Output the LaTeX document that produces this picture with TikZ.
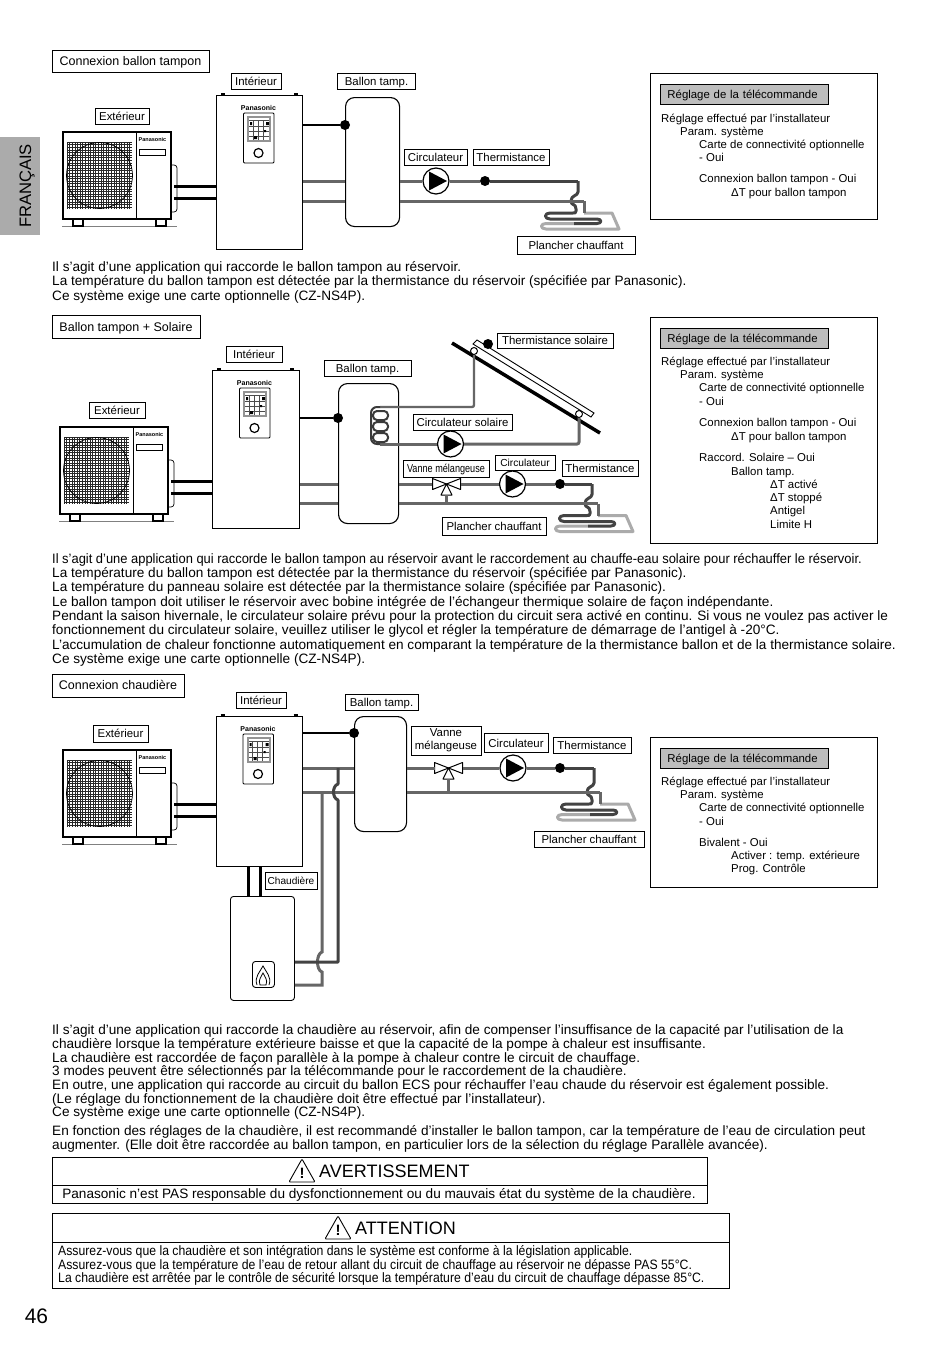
\documentclass[tikz,border=0pt]{standalone}
\usepackage{fontspec}
\setmainfont{Liberation Sans}
\newfontfamily\narrowfont[FakeStretch=0.8]{Liberation Sans}
\newfontfamily\warnfont[FakeStretch=0.9]{Liberation Sans}
\newfontfamily\tightfont[FakeStretch=0.95]{Liberation Sans}
\usepackage{xcolor}
\definecolor{pipedark}{HTML}{3A3A3A}
\definecolor{pipemid}{HTML}{666666}
\definecolor{pipelight}{HTML}{ABABAB}
\definecolor{tabgray}{HTML}{ABABAB}
\definecolor{titlegray}{HTML}{BDBDBD}
\newcommand{\labelsize}{\fontsize{11.4}{13}\selectfont}
\newcommand{\bodysize}{\fontsize{13.6}{14.3}\selectfont}
\tikzset{
  labelbox/.style={draw,fill=white,line width=.9pt,inner sep=0pt,align=center,font=\labelsize,text height=8.5pt,text depth=.5pt},
  headbox/.style={labelbox,font=\fontsize{12.5}{14}\selectfont,text height=8.2pt,text depth=0pt},
  panelbox/.style={draw,line width=1pt,minimum width=227pt,anchor=north west},
  greybox/.style={draw,fill=titlegray,line width=.9pt,minimum width=168pt,minimum height=20pt,anchor=north west,font=\labelsize,inner xsep=7pt,text width=154pt,text height=8.5pt,text depth=.5pt},
  paneltext/.style={anchor=north west,align=left,inner sep=0pt,font=\fontsize{11.4}{13.3}\selectfont},
  bodytext/.style={anchor=north west,align=left,inner sep=0pt,font=\bodysize},
  unitbox/.style={draw,fill=white,line width=1pt,anchor=north west,inner sep=0pt},
  extbox/.style={draw,fill=white,line width=1.5pt,inner sep=0pt},
  tank/.style={draw,fill=white,line width=1.1pt,rounded corners=9pt,anchor=north west,inner sep=0pt},
  pumpnode/.style={circle,draw,fill=white,line width=1.2pt,minimum size=26pt,inner sep=0pt},
  sensor/.style={circle,fill=black,minimum size=10pt,inner sep=0pt},
  brand/.style={font=\fontsize{5.5}{7}\selectfont\bfseries,inner sep=0pt},
  refpipe/.style={line width=3pt,black},
  wire/.style={line width=1.6pt,black},
  pipe/.style={line width=3pt,pipemid},
  pipetop/.style={line width=3pt,pipedark!80!pipemid},
  warnbox/.style={draw,line width=1pt,anchor=north west,inner sep=0pt},
}
% outdoor unit: name, left, top
\newcommand{\extunit}[3]{%
\begin{scope}[shift={(#2,#3)}]
\draw[line width=.8pt,gray] (0,95) -- (115,95);
\draw[line width=1.5pt] (11,87) -- (11,95) -- (21,95) -- (21,87);
\draw[line width=1.5pt] (94,87) -- (94,95) -- (104,95) -- (104,87);
\draw[line width=.7pt,rounded corners=3pt] (108,34) -- (115,34) -- (115,81) -- (108,81);
\node[extbox,anchor=north west,minimum width=108pt,minimum height=87pt] (#1) at (0,0) {};
\draw[line width=.7pt] (74,0) -- (74,87);
\foreach \gx in {0,2.6,...,65}{\draw[line width=.6pt,black!85] (5+\gx,11) -- (5+\gx,78);}
\foreach \gy in {0,2.6,...,67}{\draw[line width=.6pt,black!85] (5,11+\gy) -- (70,11+\gy);}
\draw[line width=.7pt,black] (37.5,44.5) circle (33pt);
\node[brand] (#1brand) at (90.5,9) {Panasonic};
\draw[line width=.7pt] (77,18) rectangle (103,24);
\coordinate (#1a) at (112,55.5);
\coordinate (#1b) at (112,67.5);
\end{scope}}
% indoor unit with its control panel: name, left, top, width, height
\newcommand{\intunit}[5]{%
\begin{scope}[shift={(#2,#3)}]
\draw[line width=1.4pt] (5,-1) -- (9,-1) (78,-1) -- (82,-1);
\node[unitbox,minimum width=#4pt,minimum height=#5pt] (#1) at (0,0) {};
\node[brand,font=\fontsize{7}{8}\selectfont\bfseries] (#1brand) at (42.5,13) {Panasonic};
\draw[line width=.9pt,rounded corners=1pt,fill=white] (27.5,18) rectangle (58,68);
\fill[gray!85] (31,21) rectangle (55,47);
\fill[white] (33,23) rectangle (53,45);
\draw[line width=.8pt,black!70] (33,25) -- (53,25);
\foreach \gx in {37,42,47}{\draw[line width=.7pt,black!70] (\gx,26) -- (\gx,45);}
\foreach \gy in {31,36,41}{\draw[line width=.7pt,black!70] (33,\gy) -- (53,\gy);}
\fill[black] (50,27) rectangle (53,30) (38,41) rectangle (41,44) (48,35) rectangle (50,37) (34,27) rectangle (36,30);
\draw[line width=1.2pt] (42.5,58) circle (4.5pt);
\end{scope}}
% floor circuit under a corner of the upper pipe: name, corner x, corner y, drop to lower pipe
\newcommand{\floorcoil}[4]{%
\begin{scope}[shift={(#2,#3)}]
\coordinate (#1top) at (0,0);
\coordinate (#1low) at (6,#4);
\draw[pipe,pipelight,line join=round] (6,#4+12) -- (34,#4+12) -- (41,#4+28) -- (-32,#4+28) .. controls (-38,#4+28) and (-38,#4+22.5) .. (-32,#4+22.5) -- (-4,#4+22.5);
\draw[pipe] (#1low) -- (6,#4+12);
\draw[pipetop,line join=round] (0,0) -- (0,#4-9) .. controls (0,#4-5) and (-7,#4-6) .. (-7,#4) .. controls (-7,#4+5) and (-2,#4+2) .. (-2,#4+8) -- (-2,#4+10) .. controls (-2,#4+12) and (-3,#4+12) .. (-5,#4+12) -- (-28,#4+12) .. controls (-34,#4+12) and (-34,#4+18) .. (-28,#4+18) -- (19,#4+18) .. controls (24,#4+18) and (24,#4+22.5) .. (19,#4+22.5) -- (-4,#4+22.5);
\end{scope}}
% three-way valve: name, centre x, centre y
\newcommand{\vanne}[3]{%
\begin{scope}[shift={(#2,#3)}]
\coordinate (#1) at (0,0);
\coordinate (#1foot) at (0,11);
\draw[line width=1pt,fill=white,line join=round] (0,0) -- (-14,-5.5) -- (-14,5.5) -- cycle;
\draw[line width=1pt,fill=white,line join=round] (0,0) -- (14,-5.5) -- (14,5.5) -- cycle;
\draw[line width=1pt,fill=white,line join=round] (0,0) -- (-5.5,11) -- (5.5,11) -- cycle;
\end{scope}}
% pump: name, centre x, centre y
\newcommand{\pumpat}[3]{%
\node[pumpnode] (#1) at (#2,#3) {};
\fill[black] (#2-7,#3-9.5) -- (#2-7,#3+9.5) -- (#2+11,#3) -- cycle;}
% warning sign: name, left, top
\newcommand{\warnsign}[3]{%
\draw[line width=.9pt,rounded corners=1pt,line join=round] (#2,#3+23) -- (#2+13,#3) -- (#2+26,#3+23) -- cycle;
\node[inner sep=0pt,font=\fontsize{15}{15}\selectfont\bfseries] (#1) at (#2+13,#3+14.5) {!};}

\begin{document}
\begin{tikzpicture}[x=1pt,y=-1pt]
\useasboundingbox (0,0) rectangle (950,1346);
\fill[white] (0,0) rectangle (950,1346);
% side tab and page number
\fill[tabgray] (0,137) rectangle (40,235);
\node[rotate=90,inner sep=0pt,font=\fontsize{16.6}{17}\selectfont] (tablang) at (27,186) {FRANÇAIS};
\node[inner sep=0pt,font=\fontsize{21}{21}\selectfont] (pagenum) at (36.5,1316) {46};

% first installation
\node[headbox,minimum width=157pt,minimum height=22pt] (head1) at (130.5,61) {Connexion ballon tampon};
\extunit{ext1}{62}{131}
\intunit{int1}{216}{95}{86}{154}
\node[tank,minimum width=54pt,minimum height=129pt] (tank1) at (345,97) {};
\node[sensor] (sensb1) at (345,125) {};
\draw[wire] (int1.east |- sensb1) -- (sensb1);
\draw[refpipe] (ext1a) -- (ext1a -| int1.west);
\draw[refpipe] (ext1b) -- (ext1b -| int1.west);
\pumpat{pump1}{436}{181}
\node[sensor] (sensw1) at (485,181) {};
\floorcoil{coil1}{578}{181}{20}
\draw[pipe] (int1.east |- pump1) -- (tank1.west |- pump1);
\draw[pipe] (int1.east |- coil1low) -- (tank1.west |- coil1low);
\draw[pipe] (tank1.east |- pump1) -- (pump1.west);
\draw[pipe] (pump1.east) -- (sensw1);
\draw[pipetop] (sensw1) -- (coil1top);
\draw[pipe] (tank1.east |- coil1low) -- (coil1low);
\node[labelbox,minimum width=54pt,minimum height=16pt] (lext1) at (122,116) {Extérieur};
\node[labelbox,minimum width=50pt,minimum height=16pt] (lint1) at (256,81.5) {Intérieur};
\node[labelbox,minimum width=78pt,minimum height=16pt] (ltank1) at (376.5,81.5) {Ballon tamp.};
\node[labelbox,minimum width=63pt,minimum height=16pt] (lpump1) at (435.5,157.5) {Circulateur};
\node[labelbox,minimum width=76pt,minimum height=16pt] (lsens1) at (511,157.5) {Thermistance};
\node[labelbox,minimum width=118pt,minimum height=18pt] (lfloor1) at (576,245.5) {Plancher chauffant};
\node[panelbox,minimum height=146pt] (panel1) at (650,73) {};
\node[greybox] (ptitle1) at (660,84) {Réglage de la télécommande};
\node[paneltext] (ptext1) at (661,113.5) {Réglage effectué par l’installateur\\
\hspace*{19pt}Param. système\\
\hspace*{38pt}Carte de connectivité optionnelle\\
\hspace*{38pt}- Oui\\[7.7pt]
\hspace*{38pt}Connexion ballon tampon - Oui\\
\hspace*{70pt}ΔT pour ballon tampon};
\node[bodytext,font=\fontsize{13.6}{14.4}\selectfont] (para1) at (52,261) {Il s’agit d’une application qui raccorde le ballon tampon au réservoir.\\
La température du ballon tampon est détectée par la thermistance du réservoir (spécifiée par Panasonic).\\
Ce système exige une carte optionnelle (CZ-NS4P).};

% second installation, with solar panel
\node[headbox,minimum width=148pt,minimum height=23pt] (head2) at (126,327) {Ballon tampon + Solaire};
\extunit{ext2}{59}{426}
\intunit{int2}{212}{370}{87}{158}
\node[tank,minimum width=60pt,minimum height=140pt] (tank2) at (338,383) {};
\node[sensor] (sensb2) at (338,418) {};
\draw[wire] (int2.east |- sensb2) -- (sensb2);
\draw[refpipe] (ext2a) -- (ext2a -| int2.west);
\draw[refpipe] (ext2b) -- (ext2b -| int2.west);
\draw[line width=3.5pt] (452,343) -- (600,433);
\draw[line width=.9pt,fill=white] (473,344) -- (477,340) -- (594,413) -- (591,417) -- cycle;
\node[circle,draw,fill=white,line width=1pt,minimum size=7pt,inner sep=0pt] (solin) at (474,351) {};
\node[circle,draw,fill=white,line width=1pt,minimum size=7pt,inner sep=0pt] (solout) at (579,414) {};
\node[sensor] (senss2) at (488,344) {};
\pumpat{pumps2}{450.5}{444}
\coordinate (coila) at (380,407);
\coordinate (coilb) at (380,444);
\draw[line width=2.4pt,pipemid,rounded corners=2pt] (solin) -- (solin |- coila) -- (coila);
\draw[pipe,rounded corners=2pt] (solout) -- (solout |- pumps2) -- (pumps2.east);
\draw[pipe] (pumps2.west) -- (coilb);
\draw[line width=2pt,pipedark,rounded corners=6pt] (coila) -- (371,407) -- (371,444) -- (coilb);
\foreach \cy in {411,422,433}{\draw[line width=2pt,pipedark,rounded corners=4pt] (373,\cy) rectangle (388,\cy+9);}
\vanne{valve2}{446.5}{484}
\pumpat{pump2}{512.5}{484}
\node[sensor] (sensw2) at (560,484) {};
\floorcoil{coil2}{592}{484}{19.5}
\draw[pipe] (int2.east |- pump2) -- (tank2.west |- pump2);
\draw[pipe] (int2.east |- coil2low) -- (tank2.west |- coil2low);
\draw[pipe] (tank2.east |- pump2) -- (valve2 -| 432,0);
\draw[pipe] (461,484) -- (pump2.west);
\draw[pipe] (pump2.east) -- (sensw2);
\draw[pipetop] (sensw2) -- (coil2top);
\draw[pipe] (tank2.east |- coil2low) -- (coil2low);
\draw[pipe,line width=2.4pt] (valve2foot) -- (valve2foot |- coil2low);
\node[labelbox,minimum width=56pt,minimum height=16pt] (lext2) at (117,410) {Extérieur};
\node[labelbox,minimum width=56pt,minimum height=16pt] (lint2) at (254,354.5) {Intérieur};
\node[labelbox,minimum width=87pt,minimum height=16pt] (ltank2) at (367.5,368) {Ballon tamp.};
\node[labelbox,minimum width=116pt,minimum height=15pt] (lsens2) at (555,340.5) {Thermistance solaire};
\node[labelbox,minimum width=99pt,minimum height=16pt] (lpumps2) at (462.5,422) {Circulateur solaire};
\node[labelbox,minimum width=86pt,minimum height=17pt,font=\narrowfont\labelsize] (lvalve2) at (446,468.5) {Vanne mélangeuse};
\node[labelbox,minimum width=60pt,minimum height=15pt,font=\fontsize{10.2}{12}\selectfont] (lpump2) at (525,462.5) {Circulateur};
\node[labelbox,minimum width=76pt,minimum height=16pt] (lsensw2) at (600,468) {Thermistance};
\node[labelbox,minimum width=104pt,minimum height=18pt] (lfloor2) at (494,526) {Plancher chauffant};
\node[panelbox,minimum height=226pt] (panel2) at (650,317) {};
\node[greybox] (ptitle2) at (660,328) {Réglage de la télécommande};
\node[paneltext] (ptext2) at (661,356.5) {Réglage effectué par l’installateur\\
\hspace*{19pt}Param. système\\
\hspace*{38pt}Carte de connectivité optionnelle\\
\hspace*{38pt}- Oui\\[8.4pt]
\hspace*{38pt}Connexion ballon tampon - Oui\\
\hspace*{70pt}ΔT pour ballon tampon\\[8.4pt]
\hspace*{38pt}Raccord. Solaire – Oui\\
\hspace*{70pt}Ballon tamp.\\
\hspace*{109pt}ΔT activé\\
\hspace*{109pt}ΔT stoppé\\
\hspace*{109pt}Antigel\\
\hspace*{109pt}Limite H};
\node[bodytext] (para2) at (52,553) {\tightfont Il s’agit d’une application qui raccorde le ballon tampon au réservoir avant le raccordement au chauffe-eau solaire pour réchauffer le réservoir.\\
La température du ballon tampon est détectée par la thermistance du réservoir (spécifiée par Panasonic).\\
La température du panneau solaire est détectée par la thermistance solaire (spécifiée par Panasonic).\\
Le ballon tampon doit utiliser le réservoir avec bobine intégrée de l’échangeur thermique solaire de façon indépendante.\\
Pendant la saison hivernale, le circulateur solaire prévu pour la protection du circuit sera activé en continu. Si vous ne voulez pas activer le\\
fonctionnement du circulateur solaire, veuillez utiliser le glycol et régler la température de démarrage de l’antigel à -20°C.\\
L’accumulation de chaleur fonctionne automatiquement en comparant la température de la thermistance ballon et de la thermistance solaire.\\
Ce système exige une carte optionnelle (CZ-NS4P).};

% third installation, with boiler
\node[headbox,minimum width=132pt,minimum height=23pt] (head3) at (118,685.5) {Connexion chaudière};
\extunit{ext3}{62}{749}
\intunit{int3}{215.5}{716}{86}{150}
\node[tank,minimum width=52pt,minimum height=115pt] (tank3) at (354,716) {};
\node[sensor] (sensb3) at (354,733) {};
\draw[wire] (int3.east |- sensb3) -- (sensb3);
\draw[refpipe] (ext3a) -- (ext3a -| int3.west);
\draw[refpipe] (ext3b) -- (ext3b -| int3.west);
\node[draw,fill=white,line width=.9pt,rounded corners=3pt,anchor=north west,minimum width=64pt,minimum height=104pt,inner sep=0pt] (boiler) at (230,896) {};
\draw[refpipe] (int3.south -| 248,0) -- (boiler.north -| 248,0);
\draw[refpipe] (int3.south -| 260.5,0) -- (boiler.north -| 260.5,0);
\node[draw,line width=.9pt,rounded corners=3pt,anchor=north west,minimum width=22pt,minimum height=26pt,inner sep=0pt] (flamebox) at (252,961) {};
\draw[line width=.8pt] (257,985) .. controls (254,977) and (260,972) .. (263,966) .. controls (266,972) and (272,977) .. (269,985);
\draw[line width=.8pt] (260,985) .. controls (258,980) and (261,977) .. (263,973) .. controls (265,977) and (268,980) .. (266,985) -- cycle;
\vanne{valve3}{448.5}{768}
\pumpat{pump3}{513}{768}
\node[sensor] (sensw3) at (560,768) {};
\floorcoil{coil3}{594}{768}{24}
\coordinate (boilhot) at (boiler.east |- 0,962);
\coordinate (boilret) at (boiler.east |- 0,985);
\draw[pipe] (int3.east |- pump3) -- (tank3.west |- pump3);
\draw[pipe] (int3.east |- coil3low) -- (tank3.west |- coil3low);
\draw[pipe] (322,792) -- (322,952) .. controls (316,954) and (316,970) .. (322,972) -- (322,985) -- (boilret);
\draw[pipetop,line join=round] (338,768) -- (338,784) .. controls (332,786) and (332,798) .. (338,800) -- (338,962) -- (boilhot);
\draw[pipe] (tank3.east |- pump3) -- (434.5,768);
\draw[pipe] (463,768) -- (pump3.west);
\draw[pipe] (pump3.east) -- (sensw3);
\draw[pipetop] (sensw3) -- (coil3top);
\draw[pipe] (tank3.east |- coil3low) -- (coil3low);
\draw[pipe,line width=2.4pt] (valve3foot) -- (valve3foot |- coil3low);
\node[labelbox,minimum width=55pt,minimum height=17pt] (lext3) at (120.5,733.5) {Extérieur};
\node[labelbox,minimum width=50pt,minimum height=16pt] (lint3) at (261,700) {Intérieur};
\node[labelbox,minimum width=73pt,minimum height=16pt] (ltank3) at (381.5,702) {Ballon tamp.};
\node[labelbox,minimum width=70pt,minimum height=29pt,text height=,text depth=] (lvalve3) at (446,740.5) {Vanne\\mélangeuse};
\node[labelbox,minimum width=64pt,minimum height=19pt] (lpump3) at (516,743) {Circulateur};
\node[labelbox,minimum width=78pt,minimum height=16pt] (lsensw3) at (592,745) {Thermistance};
\node[labelbox,minimum width=110pt,minimum height=16pt] (lfloor3) at (589,839) {Plancher chauffant};
\node[labelbox,minimum width=52pt,minimum height=17pt,font=\fontsize{10.1}{12}\selectfont] (lboil3) at (291,880.5) {Chaudière};
\node[panelbox,minimum height=150pt] (panel3) at (650,737) {};
\node[greybox] (ptitle3) at (660,748) {Réglage de la télécommande};
\node[paneltext] (ptext3) at (661,776.5) {Réglage effectué par l’installateur\\
\hspace*{19pt}Param. système\\
\hspace*{38pt}Carte de connectivité optionnelle\\
\hspace*{38pt}- Oui\\[7.7pt]
\hspace*{38pt}Bivalent - Oui\\
\hspace*{70pt}Activer : temp. extérieure\\
\hspace*{70pt}Prog. Contrôle};
\node[bodytext,font=\fontsize{13.6}{13.7}\selectfont] (para3) at (52,1024.5) {Il s’agit d’une application qui raccorde la chaudière au réservoir, afin de compenser l’insuffisance de la capacité par l’utilisation de la\\
chaudière lorsque la température extérieure baisse et que la capacité de la pompe à chaleur est insuffisante.\\
La chaudière est raccordée de façon parallèle à la pompe à chaleur contre le circuit de chauffage.\\
3 modes peuvent être sélectionnés par la télécommande pour le raccordement de la chaudière.\\
En outre, une application qui raccorde au circuit du ballon ECS pour réchauffer l’eau chaude du réservoir est également possible.\\
(Le réglage du fonctionnement de la chaudière doit être effectué par l’installateur).\\
Ce système exige une carte optionnelle (CZ-NS4P).};
\node[bodytext] (para4) at (52,1125) {En fonction des réglages de la chaudière, il est recommandé d’installer le ballon tampon, car la température de l’eau de circulation peut\\
augmenter. (Elle doit être raccordée au ballon tampon, en particulier lors de la sélection du réglage Parallèle avancée).};

% warnings
\node[warnbox,minimum width=654.5pt,minimum height=46pt] (warn1) at (52,1157) {};
\draw[line width=.9pt] (warn1.west |- 0,1185) -- (warn1.east |- 0,1185);
\warnsign{warnmark1}{289}{1159}
\node[inner sep=0pt,anchor=west,font=\fontsize{18}{20}\selectfont] (warnhead1) at (319,1171.5) {AVERTISSEMENT};
\node[inner sep=0pt,font=\bodysize] (warntext1) at (379,1194.5) {Panasonic n’est PAS responsable du dysfonctionnement ou du mauvais état du système de la chaudière.};
\node[warnbox,minimum width=677pt,minimum height=75pt] (warn2) at (52,1213) {};
\draw[line width=.9pt] (warn2.west |- 0,1242) -- (warn2.east |- 0,1242);
\warnsign{warnmark2}{325}{1216}
\node[inner sep=0pt,anchor=west,font=\fontsize{18}{20}\selectfont] (warnhead2) at (355,1228.5) {ATTENTION};
\node[anchor=north west,align=left,inner sep=0pt,font=\warnfont\fontsize{13.6}{13.6}\selectfont] (warntext2) at (58,1245.5) {Assurez-vous que la chaudière et son intégration dans le système est conforme à la législation applicable.\\
Assurez-vous que la température de l’eau de retour allant du circuit de chauffage au réservoir ne dépasse PAS 55°C.\\
La chaudière est arrêtée par le contrôle de sécurité lorsque la température d’eau du circuit de chauffage dépasse 85°C.};
\end{tikzpicture}
\end{document}
